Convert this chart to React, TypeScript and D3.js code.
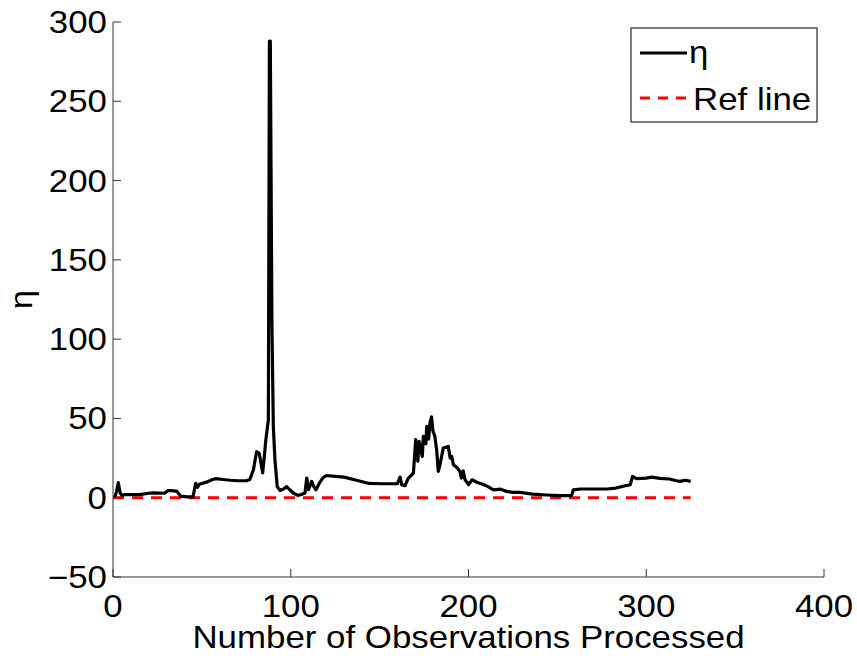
import React from "react";
import * as d3 from "d3";

const obs = [1,2,3,4,5,7,10,15,20,23,29,31,33,36,38,42,45,46.5,47.5,48.5,50,53,56,58,62,66,70,75,77,79,80.8,82.3,83.2,84.2,85.2,86,87.4,88,88.5,89.4,90.2,91.1,92.4,94,96,97.7,99,101.4,104,106,108,109,110,111.8,113,114.2,116,118,120,125,130,137,144,152,160,161.5,162.5,164.3,166,169,170.3,171.5,172.2,174,174.6,176,176.5,177.6,178.3,179.2,180,181,182.1,183,184,185.8,188.6,189.7,190.6,191.5,193.5,195.2,196,197,198,200,202,205,208,211,214,218,221.5,225,229,236,244,251,258,259,263,270,278,283,287,291,292.3,294.5,300,303,307.7,313,317,319,322,325];
const eta = [0.3,4,9.5,3,1.5,2,2,2,2.8,3,2.8,4.5,4.5,4,1,0.5,0.5,9,6.5,8.5,9,10,11.5,12,11.5,11,10.7,10.7,11.5,17.6,29,28,22,15.7,27,36.6,49,288,288,110,45,24,7,4.6,5.5,7,5.5,3,1.5,2,3,12.4,5,10.3,7,5,9,12.4,14,13.5,13,11,9,8.8,8.8,13,8,7.6,12,15.5,36.6,23,35.5,26,38.7,34,45,37,47,51,42,39,30,16.6,21,31.3,32.3,25,26,20.8,19,16.6,12.4,17,11.5,8.2,11.3,9.6,8.5,7,5,5.4,4,3.4,3.4,2.3,1.7,1.3,1.3,5,5.5,5.5,5.5,6.1,7.2,8.2,13.4,12,12.4,13,12.2,11.8,10.7,10.3,11,10.3];
const refObs = [0, 325];
const refVal = [0, 0];
const xTicks = [0, 100, 200, 300, 400];
const yTicks = [-50, 0, 50, 100, 150, 200, 250, 300];
const legendLabels = ["η", "Ref line"];

const W = 857, H = 656;
const FONT = "'Liberation Sans', Arial, Helvetica, sans-serif";
const SX = 1.125;
const FS = 31;

function T({ x, y, anchor = "middle", children, rotate = 0 }: any) {
  return (
    <text
      transform={`translate(${x},${y}) rotate(${rotate}) scale(${SX},1)`}
      textAnchor={anchor}
      fontFamily={FONT}
      fontSize={FS}
      fill="#000"
    >
      {children}
    </text>
  );
}

export default function App() {
  const x = d3.scaleLinear().domain([0, 400]).range([113, 824]);
  const y = d3.scaleLinear().domain([-50, 300]).range([577, 22]);
  const line = d3.line<number>().x((d, i) => x(obs[i])).y((d) => y(d));
  const refLine = d3.line<number>().x((d, i) => x(refObs[i])).y((d) => y(d));
  const tick = 8;
  return (
    <svg width={W} height={H} style={{ position: "absolute", left: 0, top: 0, background: "#fff" }}>
      <rect x={0} y={0} width={W} height={H} fill="#fff" />
      <path d={refLine(refVal) || ""} fill="none" stroke="#ff0000" strokeWidth={3} strokeDasharray="11 8" />
      <path d={line(eta) || ""} fill="none" stroke="#000" strokeWidth={3.2} strokeLinejoin="round" />
      <line x1={x(0)} x2={x(0)} y1={y(300)} y2={y(-50)} stroke="#333" strokeWidth={1} />
      <line x1={x(0)} x2={x(400)} y1={y(-50)} y2={y(-50)} stroke="#333" strokeWidth={1} />
      {yTicks.map((t) => (
        <g key={"y" + t}>
          <line x1={x(0)} x2={x(0) + tick} y1={y(t)} y2={y(t)} stroke="#333" strokeWidth={1} />
          <T x={107} y={y(t) + 11} anchor="end">{t < 0 ? "\u2212" + Math.abs(t) : String(t)}</T>
        </g>
      ))}
      {xTicks.map((t) => (
        <g key={"x" + t}>
          <line x1={x(t)} x2={x(t)} y1={y(-50)} y2={y(-50) - tick} stroke="#333" strokeWidth={1} />
          <T x={x(t)} y={617}>{String(t)}</T>
        </g>
      ))}
      <T x={(x(0) + x(400)) / 2} y={648}>Number of Observations Processed</T>
      <T x={32} y={(y(300) + y(-50)) / 2} rotate={-90}>η</T>
      <g>
        <rect x={631} y={28} width={186} height={94} fill="#fff" stroke="#000" strokeWidth={1} />
        <line x1={640} x2={687} y1={53} y2={53} stroke="#000" strokeWidth={3} />
        <T x={689} y={63} anchor="start">{legendLabels[0]}</T>
        <line x1={640} x2={687} y1={98} y2={98} stroke="#ff0000" strokeWidth={3} strokeDasharray="10 8" />
        <T x={693} y={110} anchor="start">{legendLabels[1]}</T>
      </g>
    </svg>
  );
}
